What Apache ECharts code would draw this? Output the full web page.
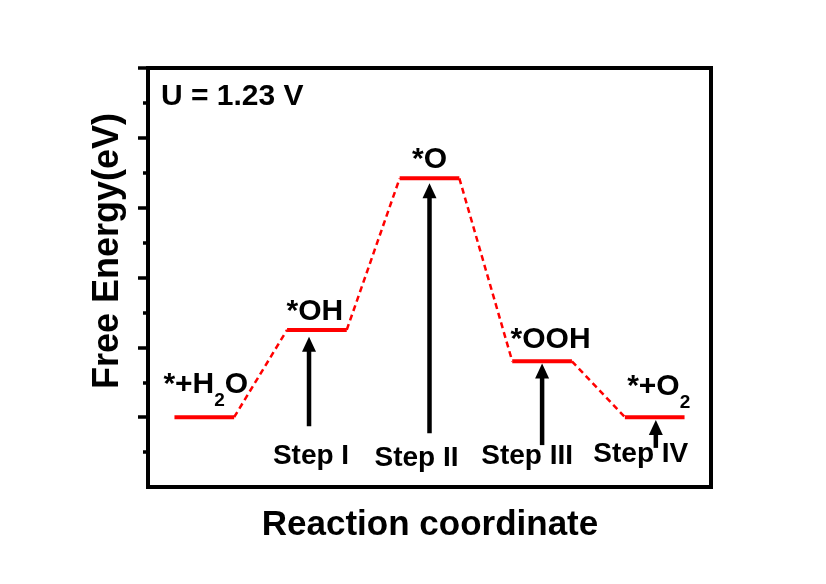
<!DOCTYPE html>
<html><head><meta charset="utf-8">
<script src="https://cdn.jsdelivr.net/npm/echarts@6/dist/echarts.min.js"></script>
<style>html,body{margin:0;padding:0;background:#fff}#c{width:826px;height:584px}</style>
</head><body><div id="c"></div>
<script>
// ---- data ----
const states = ['*+H2O', '*OH', '*O', '*OOH', '*+O2'];
const stateLabelParts = [
  [['*+H', 'n'], ['2', 's'], ['O', 'n']],
  [['*OH', 'n']],
  [['*O', 'n']],
  [['*OOH', 'n']],
  [['*+O', 'n'], ['2', 's']]
];
const stateX = [0.5, 1.5, 2.5, 3.5, 4.5];
const energies = [0, 1.25, 3.42, 0.80, 0];
const steps = ['Step I', 'Step II', 'Step III', 'Step IV'];
const stepX = [1.43, 2.50, 3.50, 4.51];
const stepBase = [-0.13, -0.23, -0.40, -0.44];
const stepTip = [1.15, 3.35, 0.77, -0.04];
const yTicks = [0, 1, 2, 3, 4, 5];
const potentialText = 'U = 1.23 V';
const xTitle = 'Reaction coordinate';
const yTitle = 'Free Energy(eV)';

// ---- styles ----
const HALF = 0.265;
const FONT = '"Liberation Sans", Arial, sans-serif';
const MAIN = 30, SUB = 19, STEPF = 28;
const labelOffsets = [[1.5, -32.5], [-2, -18.5], [0, -18.5], [8.5, -22], [4, -30.5]];
const stepLabelOffsets = [[2, 30], [-13, 25], [-15, 11], [-15, 6]];

const mctx = document.createElement('canvas').getContext('2d');
function tw(t, size) { mctx.font = 'bold ' + size + 'px ' + FONT; return mctx.measureText(t).width; }

const levelData = [];
const connData = [];
stateX.forEach((x, i) => {
  levelData.push([x - HALF, energies[i]], [x + HALF, energies[i]], [x, '-']);
  if (i < stateX.length - 1) {
    connData.push([x + HALF, energies[i]], [stateX[i + 1] - HALF, energies[i + 1]], [x + 0.5, '-']);
  }
});

const chart = echarts.init(document.getElementById('c'), null, { renderer: 'canvas' });
chart.setOption({
  animation: false,
  backgroundColor: '#fff',
  grid: { left: 148, right: 115, top: 68, bottom: 97, show: true, borderColor: '#000', borderWidth: 4, outerBoundsMode: 'none' },
  xAxis: {
    type: 'value', min: 0, max: 5,
    axisLine: { show: true, onZero: false, lineStyle: { color: '#000', width: 4 } },
    axisTick: { show: false }, axisLabel: { show: false }, splitLine: { show: false }
  },
  yAxis: {
    type: 'value', min: -1, max: 5, interval: 1,
    axisLine: { show: true, onZero: false, lineStyle: { color: '#000', width: 4 } },
    axisTick: { show: true, inside: false, length: 10, customValues: yTicks, lineStyle: { color: '#000', width: 3.5 } },
    minorTick: { show: true, splitNumber: 2, length: 5, lineStyle: { color: '#000', width: 3.5 } },
    axisLabel: { show: false }, splitLine: { show: false }, minorSplitLine: { show: false }
  },
  graphic: [
    { type: 'text', x: 161, y: 97, style: { text: potentialText, font: 'bold ' + MAIN + 'px ' + FONT, fill: '#000', align: 'left', verticalAlign: 'middle' } },
    { type: 'text', x: 430, y: 525, style: { text: xTitle, font: 'bold 35px ' + FONT, fill: '#000', align: 'center', verticalAlign: 'middle' } },
    { type: 'text', x: 108, y: 251, rotation: Math.PI / 2, style: { text: yTitle, font: 'bold 36px ' + FONT, fill: '#000', align: 'center', verticalAlign: 'middle' } }
  ],
  series: [
    {
      type: 'line', data: connData, showSymbol: false, connectNulls: false, silent: true, z: 2,
      lineStyle: { color: '#ff0000', width: 2.5, type: [6, 4] }
    },
    {
      type: 'line', data: levelData, showSymbol: false, connectNulls: false, silent: true, z: 3,
      lineStyle: { color: '#ff0000', width: 4, cap: 'butt' }
    },
    {
      type: 'custom', silent: true, z: 5,
      data: stateX.map((x, i) => [x, energies[i]]),
      renderItem(params, api) {
        const i = params.dataIndex;
        const p = api.coord([api.value(0), api.value(1)]);
        const parts = stateLabelParts[i];
        const widths = parts.map(([t, k]) => tw(t, k === 's' ? SUB : MAIN));
        const total = widths.reduce((a, b) => a + b, 0);
        let x = p[0] + labelOffsets[i][0] - total / 2;
        const yc = p[1] + labelOffsets[i][1];
        const children = parts.map(([t, k], j) => {
          const el = { type: 'text', x: x, y: k === 's' ? yc + 16.5 : yc,
            style: { text: t, font: 'bold ' + (k === 's' ? SUB : MAIN) + 'px ' + FONT, fill: '#000', align: 'left', verticalAlign: 'middle' } };
          x += widths[j];
          return el;
        });
        return { type: 'group', children };
      }
    },
    {
      type: 'custom', silent: true, z: 6,
      data: stepX.map((x, i) => [x, stepBase[i], stepTip[i]]),
      renderItem(params, api) {
        const i = params.dataIndex;
        const b = api.coord([api.value(0), api.value(1)]);
        const t = api.coord([api.value(0), api.value(2)]);
        const headLen = 15, halfW = 7, sw = 4.5;
        return {
          type: 'group',
          children: [
            { type: 'rect', shape: { x: b[0] - sw / 2, y: t[1] + headLen - 1, width: sw, height: b[1] - (t[1] + headLen - 1) }, style: { fill: '#000' } },
            { type: 'polygon', shape: { points: [[b[0], t[1]], [b[0] - halfW, t[1] + headLen], [b[0] + halfW, t[1] + headLen]] }, style: { fill: '#000' } },
            { type: 'text', x: b[0] + stepLabelOffsets[i][0], y: b[1] + stepLabelOffsets[i][1],
              style: { text: steps[i], font: 'bold ' + STEPF + 'px ' + FONT, fill: '#000', align: 'center', verticalAlign: 'middle' } }
          ]
        };
      }
    }
  ]
});
</script>
</body></html>
